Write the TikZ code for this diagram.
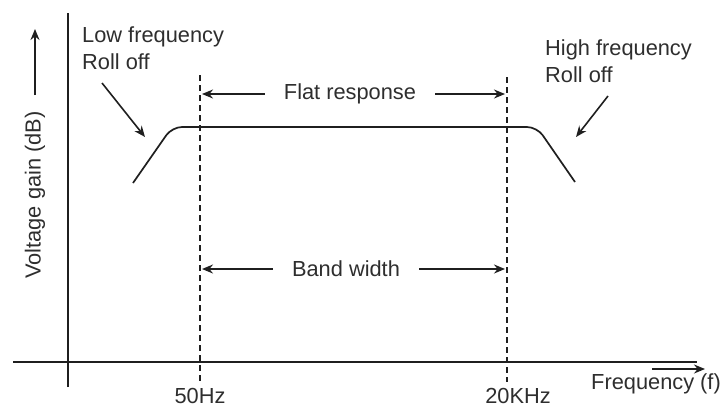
\documentclass[tikz,border=0pt]{standalone}
\usepackage{fontspec}
\setmainfont{Liberation Sans}
\usetikzlibrary{arrows.meta}

\begin{document}
\begin{tikzpicture}[x=1pt,y=-1pt,
    lbl/.style={font=\fontsize{21.8}{27}\selectfont, text=black!82, inner sep=0pt},
    gap/.style={lbl, inner xsep=19pt},
    ax/.style={line width=1.7pt, black!88},
    arr/.style={line width=1.6pt, black!88, -{Stealth[length=11pt,width=9pt]}},
    guide/.style={line width=1.9pt, black!88, dash pattern=on 6pt off 4pt}]
    \useasboundingbox (0,0) rectangle (722,408);

    \coordinate (ytop) at (68,13);
    \coordinate (ybot) at (68,387);
    \coordinate (xl) at (13,362);
    \coordinate (xr) at (697,362);
    \draw[ax] (ybot) -- (ytop);
    \draw[ax] (xl) -- (xr);

    \node[lbl, rotate=90] (vg) at (35,195) {Voltage gain (dB)};
    \coordinate (vga) at (35,95);
    \coordinate (vgb) at (35,29);
    \draw[arr] (vga) -- (vgb);

    \node[lbl] (freq) at (656,384) {Frequency (f)};
    \coordinate (fa) at (652,369);
    \coordinate (fb) at (705,369);
    \draw[arr] (fa) -- (fb);

    \coordinate (lotop) at (200,75);
    \coordinate (lobot) at (200,384);
    \coordinate (hitop) at (507,77);
    \coordinate (hibot) at (507,382);
    \draw[guide] (lotop) -- (lobot);
    \draw[guide] (hitop) -- (hibot);
    \node[lbl] (fifty) at (200,396) {50Hz};
    \node[lbl] (twenty) at (518,396) {20KHz};

    \coordinate (c1) at (133,183);
    \coordinate (c2) at (172,127);
    \coordinate (c3) at (537,127);
    \coordinate (c4) at (575,182);
    \draw[ax, rounded corners=10pt] (c1) -- (c2) -- (c3) -- (c4);

    \node[gap] (flat) at (350,94) {Flat response};
    \coordinate (flatl) at (202,94);
    \coordinate (flatr) at (505,94);
    \draw[arr] (flat) -- (flatl);
    \draw[arr] (flat) -- (flatr);

    \node[gap] (band) at (346,269) {Band width};
    \coordinate (bandl) at (202,269);
    \coordinate (bandr) at (505,269);
    \draw[arr] (band) -- (bandl);
    \draw[arr] (band) -- (bandr);

    \node[lbl, anchor=west, align=left] (low) at (82,48) {Low frequency\\Roll off};
    \coordinate (lowa) at (102,83);
    \coordinate (lowb) at (145,137);
    \draw[arr] (lowa) -- (lowb);

    \node[lbl, anchor=west, align=left] (high) at (545,61) {High frequency\\Roll off};
    \coordinate (higha) at (608,96);
    \coordinate (highb) at (576,137);
    \draw[arr] (higha) -- (highb);
\end{tikzpicture}
\end{document}
